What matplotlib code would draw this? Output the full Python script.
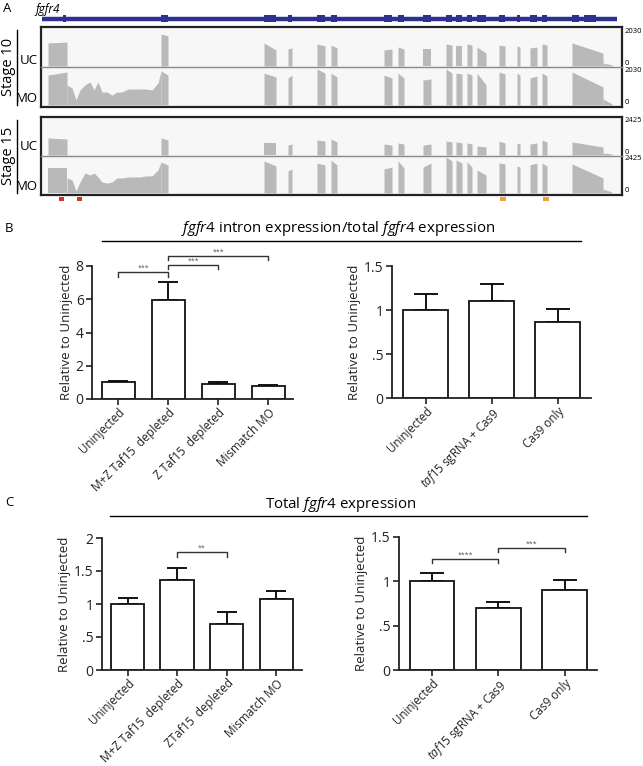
import matplotlib.pyplot as plt
import numpy as np
from matplotlib.lines import Line2D

plt.rcParams['font.family'] = ['Open Sans', 'DejaVu Sans']
plt.rcParams['mathtext.fontset'] = 'custom'
plt.rcParams['mathtext.rm'] = 'Open Sans'
plt.rcParams['mathtext.it'] = 'Open Sans:italic'

W, H = 643, 766

# ---------------- panel A: fgfr4 locus, read coverage ----------------
# positions along the locus (arbitrary browser units), coverage in reads
exons = [(7, 26), (120, 127), (223, 235), (247, 251), (276, 284), (290, 296),
         (343, 351), (357, 363), (382, 390), (405, 411), (415, 421), (426, 431),
         (436, 445), (458, 464), (476, 479), (489, 496), (501, 506), (531, 562),
         (562, 571)]
gene_exons = [(22, 25), (120, 127), (223, 235), (247, 251), (276, 284), (290, 296),
              (343, 351), (357, 363), (382, 390), (405, 411), (415, 421), (426, 431),
              (436, 445), (458, 464), (476, 479), (489, 496), (501, 506), (531, 538),
              (543, 555)]
gene_span = (1, 576)

# coverage at start / end of each exon block
cov_uc10 = [(1300, 1350), (1800, 1700), (1300, 900), (960, 1020), (1240, 1130), (1180, 1020),
            (900, 960), (1070, 960), (960, 960), (1240, 1180), (1130, 1130), (1240, 1180),
            (1070, 730), (1180, 1130), (1130, 1070), (1020, 1070), (1240, 1180), (1300, 730),
            (170, 60)]
cov_mo10 = [(1690, 1860), (1920, 1690), (1800, 1580), (1520, 1690), (2030, 1800), (1800, 1580),
            (1690, 1520), (1800, 1520), (1410, 1470), (2030, 1800), (1800, 1750), (1800, 1690),
            (1800, 1130), (1860, 1750), (1800, 1690), (1520, 1640), (1800, 1640), (1860, 1020),
            (340, 60)]
cov_uc15 = [(1150, 1080), (1150, 1010), (810, 810), (670, 740), (1010, 940), (1080, 880),
            (740, 670), (810, 740), (670, 740), (940, 880), (880, 810), (810, 740),
            (610, 540), (940, 810), (810, 740), (740, 810), (1010, 880), (880, 540),
            (135, 67)]
cov_mo15 = [(1690, 1690), (2090, 1890), (2160, 1820), (1480, 1620), (2020, 1890), (2220, 1890),
            (1620, 1750), (2160, 1690), (1750, 2020), (2425, 2160), (2220, 2020), (2090, 1750),
            (1550, 1210), (2020, 1960), (1820, 1750), (1890, 2020), (2020, 1820), (1960, 1010),
            (270, 67)]

# retained first intron in the morphants
intron_pos = [26, 31, 35, 39, 44, 49, 53, 57, 61, 66, 71, 76, 81, 87, 93, 99, 105, 111, 117, 120]
intron_mo10 = [1130, 960, 280, 850, 1130, 1300, 850, 1300, 730, 730, 560, 730, 730, 900, 900,
               900, 900, 850, 1240, 1900]
intron_mo15 = [1010, 880, 135, 740, 1350, 1210, 1350, 1080, 740, 670, 740, 1010, 1010, 1080,
               1080, 1080, 1150, 1150, 1550, 2090]

scale10 = 2030
scale15 = 2425
primers_intron = [(18, 23), (36, 41)]
primers_exon = [(459, 465), (502, 508)]

# ---------------- panel B / C: qPCR ----------------
b_groups = ['Uninjected', 'M+Z Taf15  depleted', 'Z Taf15  depleted', 'Mismatch MO']
b_vals = [1.0, 5.95, 0.9, 0.78]
b_err = [0.08, 1.1, 0.1, 0.05]

b2_groups = ['Uninjected', r'$\it{taf15}$ sgRNA + Cas9', 'Cas9 only']
b2_vals = [1.0, 1.10, 0.86]
b2_err = [0.18, 0.20, 0.15]

c_groups = ['Uninjected', 'M+Z Taf15  depleted', 'ZTaf15  depleted', 'Mismatch MO']
c_vals = [1.0, 1.36, 0.70, 1.08]
c_err = [0.09, 0.18, 0.18, 0.11]

c2_groups = ['Uninjected', r'$\it{taf15}$ sgRNA + Cas9', 'Cas9 only']
c2_vals = [1.0, 0.70, 0.90]
c2_err = [0.09, 0.07, 0.11]

fig = plt.figure(figsize=(W / 100, H / 100), dpi=100)


def px_rect(x0, y0, x1, y1):
    return [x0 / W, 1 - y1 / H, (x1 - x0) / W, (y1 - y0) / H]


def fx(x):
    return x / W


def fy(y):
    return 1 - y / H


GRAY = '#b9b9b9'
BLUE = '#2e3192'
XL = (0, 581)

# gene model
axg = fig.add_axes(px_rect(41, 12, 622, 25))
axg.set_xlim(*XL)
axg.set_ylim(-1, 1)
axg.axis('off')
axg.plot(gene_span, [0, 0], color=BLUE, lw=3.2, solid_capstyle='butt')
for s, e in gene_exons:
    axg.fill_between([s, e], -0.6, 0.6, color=BLUE, lw=0)
fig.text(fx(35), fy(10), 'fgfr4', style='italic', fontsize=8.5, va='center')
fig.text(fx(3), fy(9), 'A', fontsize=9.5, va='center')


def track(y_top, y_base, cov, scale, intron=None):
    ax = fig.add_axes(px_rect(41, y_top, 622, y_base))
    ax.set_xlim(*XL)
    ax.set_ylim(0, scale)
    ax.axis('off')
    for (s, e), (h0, h1) in zip(exons, cov):
        ax.fill_between([s, e], [h0, h1], color=GRAY, lw=0)
    if intron is not None:
        ax.fill_between(intron_pos, intron, color=GRAY, lw=0)
    ax.text(1.004, 0.95, str(scale), transform=ax.transAxes, fontsize=5.5, va='center')
    ax.text(1.004, 0.08, '0', transform=ax.transAxes, fontsize=5.5, va='center')
    return ax


def stage_box(y0, y1, ydiv, label, uc_y, mo_y):
    bg = fig.add_axes(px_rect(41, y0, 622, y1))
    bg.set_facecolor('#f7f7f7')
    bg.set_xticks([])
    bg.set_yticks([])
    for sp in bg.spines.values():
        sp.set_linewidth(1.6)
        sp.set_color('#222222')
    bg.set_zorder(-1)
    fig.add_artist(Line2D([fx(41), fx(622)], [fy(ydiv), fy(ydiv)], color='#8a8a8a', lw=1))
    fig.add_artist(Line2D([fx(17), fx(17)], [fy(y0 + 3), fy(y1 - 2)], color='black', lw=1))
    fig.text(fx(9), fy((y0 + y1) / 2), label, rotation=90, fontsize=10.5, ha='center', va='center')
    fig.text(fx(38), fy(uc_y), 'UC', fontsize=9.5, ha='right', va='center')
    fig.text(fx(38), fy(mo_y), 'MO', fontsize=9.5, ha='right', va='center')


stage_box(27, 107, 67, 'Stage 10', 60, 99)
stage_box(117, 195, 156, 'Stage 15', 147, 186)
track(30, 66, cov_uc10, scale10)
track(69, 105, cov_mo10, scale10, intron_mo10)
track(119, 155, cov_uc15, scale15)
track(157, 193, cov_mo15, scale15, intron_mo15)

axp = fig.add_axes(px_rect(41, 197, 622, 201))
axp.set_xlim(*XL)
axp.set_ylim(0, 1)
axp.axis('off')
for s, e in primers_intron:
    axp.fill_between([s, e], 0, 1, color='#d9342b', lw=0)
for s, e in primers_exon:
    axp.fill_between([s, e], 0, 1, color='#f0a23a', lw=0)


# ---------------- bar panels ----------------
def bar_panel(rect, groups, vals, errs, ymax, yticks, yticklabels, xlim, width, capsize):
    ax = fig.add_axes(px_rect(*rect))
    x = np.arange(len(vals))
    ax.errorbar(x, vals, yerr=[np.zeros(len(errs)), errs], fmt='none', ecolor='black',
                elinewidth=1.3, capsize=capsize, capthick=1.3, zorder=1)
    ax.bar(x, vals, width=width, color='white', edgecolor='#111111', linewidth=1.3, zorder=2)
    ax.set_xlim(*xlim)
    ax.set_ylim(0, ymax)
    ax.set_yticks(yticks)
    ax.set_yticklabels(yticklabels, fontsize=10)
    ax.set_xticks(x)
    ax.set_xticklabels(groups, rotation=45, ha='right', rotation_mode='anchor', fontsize=8.4)
    ax.tick_params(axis='y', length=4, width=1.2, pad=2, colors='#222222')
    ax.tick_params(axis='x', length=4, width=1.2, pad=1, colors='#222222')
    for side in ['top', 'right']:
        ax.spines[side].set_visible(False)
    for side in ['left', 'bottom']:
        ax.spines[side].set_linewidth(1.3)
        ax.spines[side].set_color('#222222')
    ax.set_ylabel('Relative to Uninjected', fontsize=9.5, labelpad=2, color='#222222')
    return ax


def bracket(ax, x0, x1, y, leg, stars):
    ax.plot([x0, x0, x1, x1], [y - leg, y, y, y - leg], color='#333333', lw=1, clip_on=False)
    ax.text((x0 + x1) / 2, y, stars, ha='center', va='bottom', fontsize=5, color='#555555')


fig.text(fx(5), fy(228), 'B', fontsize=9.5, va='center')
fig.text(fx(338), fy(229), r'$\it{fgfr4}$ intron expression/total $\it{fgfr4}$ expression',
         fontsize=10.8, ha='center', va='center')
fig.add_artist(Line2D([fx(102), fx(581)], [fy(241), fy(241)], color='black', lw=1))

ax1 = bar_panel((92, 266, 293, 399), b_groups, b_vals, b_err, 8, [0, 2, 4, 6, 8],
                ['0', '2', '4', '6', '8'], (-0.53, 3.5), 0.66, 7)
bracket(ax1, 0, 1, 7.65, 0.3, '***')
bracket(ax1, 1, 2, 8.07, 0.24, '***')
bracket(ax1, 1, 3, 8.6, 0.23, '***')

ax2 = bar_panel((392, 266, 591, 398), b2_groups, b2_vals, b2_err, 1.5, [0, 0.5, 1, 1.5],
                ['0', '.5', '1', '1.5'], (-0.51, 2.5), 0.68, 8.5)

fig.text(fx(5), fy(503), 'C', fontsize=9.5, va='center')
fig.text(fx(341), fy(505), r'Total $\it{fgfr4}$ expression', fontsize=10.8, ha='center',
         va='center')
fig.add_artist(Line2D([fx(110), fx(587)], [fy(516), fy(516)], color='black', lw=1))

ax3 = bar_panel((102, 538, 302, 670), c_groups, c_vals, c_err, 2, [0, 0.5, 1, 1.5, 2],
                ['0', '.5', '1', '1.5', '2'], (-0.515, 3.52), 0.67, 7)
bracket(ax3, 1, 2, 1.79, 0.08, '**')

ax4 = bar_panel((399, 537, 597, 670), c2_groups, c2_vals, c2_err, 1.5, [0, 0.5, 1, 1.5],
                ['0', '.5', '1', '1.5'], (-0.5, 2.49), 0.67, 8.5)
bracket(ax4, 0, 1, 1.25, 0.045, '****')
bracket(ax4, 1, 2, 1.375, 0.045, '***')

fig.savefig('out.png', dpi=100)
